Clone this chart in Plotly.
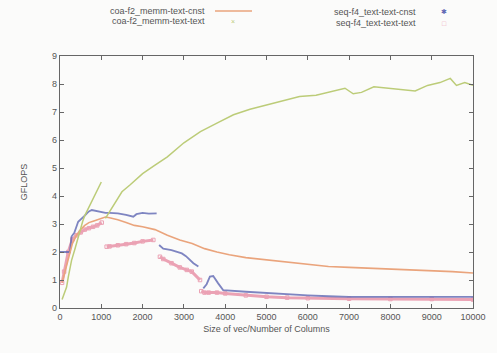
import plotly.graph_objects as go

# GFLOPS measured against vector size / number of columns.
# None marks a break between separately measured segments.
coa_cnst_x = [50, 100, 200, 300, 400, 500, 600, 700, 800, 900, 1000, 1100, 1200, 1400,
              1600, 1800, 2000, 2300, 2600, 2900, 3200, 3500, 3800, 4100, 4500, 5000,
              5300, 5700, 6000, 6500, 7000, 7500, 8000, 8500, 9000, 9500, 10000]
coa_cnst_y = [0.9, 1.2, 1.8, 2.3, 2.6, 2.8, 2.95, 3.05, 3.1, 3.15, 3.2, 3.25, 3.22, 3.15,
              3.05, 2.95, 2.9, 2.8, 2.6, 2.43, 2.3, 2.12, 2.0, 1.9, 1.8, 1.72,
              1.68, 1.6, 1.55, 1.48, 1.45, 1.42, 1.4, 1.37, 1.33, 1.3, 1.25]

coa_text_x = [50, 100, 160, 200, 280, 360, 450, 550, 600, 650, 770, 850, 930, 1000, None,
              1100, 1200, 1300, 1500, 1700, 2000, 2300, 2600, 3000, 3400, 3800, 4200,
              4600, 5000, 5400, 5800, 6200, 6600, 6900, 7100, 7300, 7600, 8000, 8300,
              8600, 8900, 9200, 9450, 9600, 9800, 10000]
coa_text_y = [0.3, 0.5, 0.75, 1.1, 1.7, 2.1, 2.6, 3.1, 3.3, 3.45, 3.85, 4.05, 4.3, 4.5, None,
              3.2, 3.45, 3.7, 4.15, 4.4, 4.8, 5.1, 5.4, 5.9, 6.3, 6.6, 6.9,
              7.1, 7.25, 7.4, 7.55, 7.6, 7.75, 7.85, 7.65, 7.7, 7.9, 7.85, 7.8,
              7.75, 7.95, 8.05, 8.2, 7.95, 8.05, 7.95]

seq_cnst_x = [0, 50, 100, 200, 240, 280, 350, 440, 500, 600, 650, 700, 770, 900, 1000,
              1100, 1200, 1400, 1600, 1775, 1850, 2000, 2150, 2340, None,
              2400, 2500, 2700, 2850, 2950, 3050, 3150, 3230, 3350, None,
              3470, 3550, 3630, 3710, 3830, 3950, 4500, 5000, 5500, 6000, 6500, 7000,
              8000, 9000, 10000]
seq_cnst_y = [2.0, 2.0, 2.0, 2.0, 2.0, 2.55, 2.7, 3.08, 3.15, 3.3, 3.38, 3.45, 3.5, 3.45, 3.42,
              3.4, 3.4, 3.38, 3.33, 3.26, 3.35, 3.4, 3.37, 3.38, None,
              2.25, 2.12, 2.07, 2.0, 1.95, 1.85, 1.72, 1.6, 1.48, None,
              0.7, 0.85, 1.12, 1.14, 0.88, 0.64, 0.58, 0.53, 0.49, 0.45, 0.42, 0.4,
              0.4, 0.4, 0.4]

seq_text_x = [50, 100, 200, 300, 400, 500, 600, 700, 800, 900, 1010, None,
              1130, 1200, 1400, 1600, 1800, 2000, 2260, None,
              2420, 2500, 2700, 2900, 3070, 3190, 3390, None,
              3420, 3500, 3600, 3800, 4000, 4500, 5000, 5500, 6000, 7000, 8000, 9000, 10000]
seq_text_y = [0.9, 1.3, 2.0, 2.45, 2.6, 2.7, 2.8, 2.85, 2.9, 2.95, 3.05, None,
              2.19, 2.2, 2.24, 2.28, 2.32, 2.38, 2.43, None,
              1.83, 1.75, 1.6, 1.45, 1.36, 1.3, 1.0, None,
              0.6, 0.55, 0.55, 0.55, 0.52, 0.45, 0.4, 0.37, 0.35, 0.33, 0.32, 0.32, 0.3]

series_names = ["coa-f2_memm-text-cnst", "coa-f2_memm-text-text",
                "seq-f4_text-text-cnst", "seq-f4_text-text-text"]
x_ticks = [0, 1000, 2000, 3000, 4000, 5000, 6000, 7000, 8000, 9000, 10000]
x_tick_labels = [str(v) for v in x_ticks]
y_ticks = [0, 1, 2, 3, 4, 5, 6, 7, 8, 9]

ORANGE = "#eaa47c"
GREEN = "#bccc78"
BLUE = "#6068b4"
PINK = "#eba2b4"
TEXT = "#555555"
FONT = "Liberation Sans, Arial, sans-serif"

fig = go.Figure()
fig.add_trace(go.Scatter(x=seq_text_x, y=seq_text_y, name=series_names[3], mode="lines+markers",
                         line=dict(color=PINK, width=3), marker=dict(size=3.5, symbol="square-open", color=PINK),
                         connectgaps=False))
fig.add_trace(go.Scatter(x=seq_cnst_x, y=seq_cnst_y, name=series_names[2], mode="lines",
                         line=dict(color=BLUE, width=1.8),
                         connectgaps=False, opacity=0.8))
fig.add_trace(go.Scatter(x=coa_cnst_x, y=coa_cnst_y, name=series_names[0], mode="lines",
                         line=dict(color=ORANGE, width=1.6)))
fig.add_trace(go.Scatter(x=coa_text_x, y=coa_text_y, name=series_names[1], mode="lines",
                         line=dict(color=GREEN, width=1.5),
                         connectgaps=False))

axis_common = dict(
    showline=True, mirror="ticks", linecolor="#666666", linewidth=1.2,
    ticks="inside", ticklen=4, tickcolor="#666666", tickwidth=1,
    showgrid=False, zeroline=False,
    tickfont=dict(family=FONT, size=9, color=TEXT),
)

L, R, T, B = 60, 473, 56, 308
fig.update_layout(
    width=497, height=353,
    margin=dict(l=L, r=497 - R, t=T, b=353 - B),
    paper_bgcolor="#fbfbfa", plot_bgcolor="#fbfbfa",
    showlegend=False,
    xaxis=dict(range=[0, 10000], tickvals=x_ticks, ticktext=x_tick_labels,
               title=dict(text="Size of vec/Number of Columns", standoff=4,
                          font=dict(family=FONT, size=9, color=TEXT)),
               **axis_common),
    yaxis=dict(range=[0, 9], tickvals=y_ticks,
               title=dict(text="GFLOPS", standoff=22,
                          font=dict(family=FONT, size=9, color=TEXT)),
               **axis_common),
)


def px(xp, yp):
    """Pixel position in the page -> paper coordinates of the plot area."""
    return (xp - L) / (R - L), (B - yp) / (B - T)


# gnuplot-style key: right-justified labels with the sample to their right
key = [
    (series_names[0], 207, 11, ORANGE, "line"),
    (series_names[1], 207, 21, GREEN, "×"),
    (series_names[2], 418, 12, BLUE, "✱"),
    (series_names[3], 418, 23, PINK, "□"),
]
for label, xr, yc, color, sample in key:
    ax, ay = px(xr, yc)
    fig.add_annotation(x=ax, y=ay, xref="paper", yref="paper",
                       xanchor="right", yanchor="middle", showarrow=False,
                       text=label, font=dict(family=FONT, size=9, color=TEXT))
    if sample == "line":
        x0, y0 = px(215, yc)
        x1, _ = px(252, yc)
        fig.add_shape(type="line", xref="paper", yref="paper",
                      x0=x0, x1=x1, y0=y0, y1=y0,
                      line=dict(color=color, width=1.3))
    else:
        sx, sy = px(233 if xr < 300 else 444, yc)
        fig.add_annotation(x=sx, y=sy, xref="paper", yref="paper",
                           xanchor="center", yanchor="middle", showarrow=False,
                           text=sample, font=dict(family=FONT, size=7, color=color))

fig.write_html("out.html")
